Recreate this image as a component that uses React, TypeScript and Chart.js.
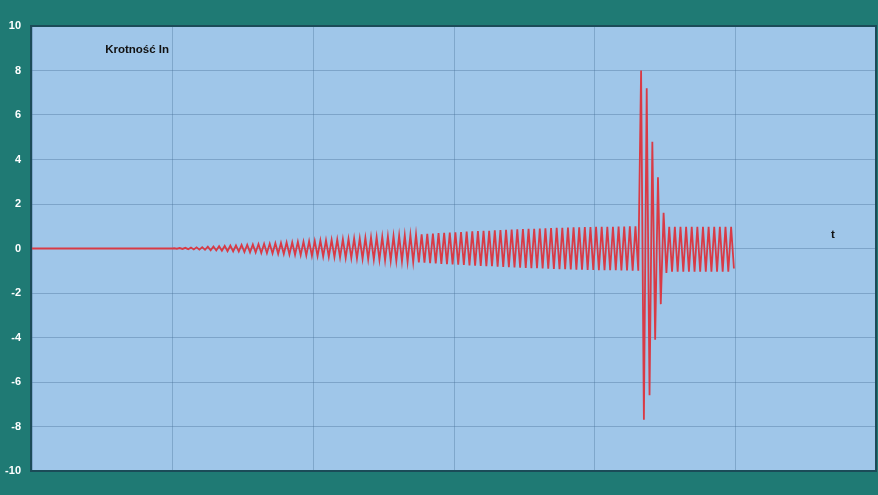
import React, { useEffect, useRef } from "react";
import { Chart, registerables } from "chart.js";

Chart.register(...registerables);

// y-axis tick values
const yTickValues = [-10, -8, -6, -4, -2, 0, 2, 4, 6, 8, 10];
// x extent (time units, grid every 1)
const xMin = 0;
const xMax = 6;

// flat part before the oscillation starts
const flatTimes = [0, 1];
const flatValues = [0, 0];

// per-cycle amplitude before the fault, cycle period 0.04
const preFaultAmp = [
  0.01, 0.02, 0.03, 0.04, 0.05, 0.06, 0.08, 0.09, 0.1, 0.12,
  0.13, 0.14, 0.16, 0.17, 0.18, 0.2, 0.21, 0.22, 0.24, 0.25,
  0.27, 0.28, 0.3, 0.31, 0.33, 0.34, 0.36, 0.37, 0.39, 0.4,
  0.42, 0.43, 0.45, 0.46, 0.48, 0.5, 0.51, 0.53, 0.55, 0.56,
  0.58, 0.6, 0.61, 0.63, 0.64, 0.66, 0.67, 0.69, 0.7, 0.72,
  0.73, 0.74, 0.76, 0.77, 0.78, 0.79, 0.8, 0.82, 0.83, 0.84,
  0.85, 0.86, 0.87, 0.88, 0.89, 0.9, 0.91, 0.92, 0.93, 0.93,
  0.94, 0.95, 0.95, 0.96, 0.96, 0.97, 0.97, 0.98, 0.98, 0.99,
  0.99, 1.0, 1.0,
];
// fault transient peaks and troughs
const faultPeaks = [8.0, 7.2, 4.8, 3.2, 1.6];
const faultTroughs = [-7.7, -6.6, -4.1, -2.5, -1.1];
// steady state after the fault
const postFaultPeaks = [0.98, 0.98, 0.98, 0.98, 0.98, 0.98, 0.98, 0.98, 0.98, 0.98, 0.98, 0.98];
const postFaultTroughs = [-1.04, -1.04, -1.04, -1.04, -1.04, -1.04, -1.04, -1.04, -1.04, -1.04, -1.04, -0.9];

const waveStart = 1.0;
const cyclePeriod = 0.04;

const yLabel = "Krotność In";
const xLabel = "t";

function buildPoints() {
  const pts: { x: number; y: number }[] = [];
  flatTimes.forEach((t, i) => pts.push({ x: t, y: flatValues[i] }));
  const peaks = [...preFaultAmp, ...faultPeaks, ...postFaultPeaks];
  const troughs = [...preFaultAmp.map((a) => -a), ...faultTroughs, ...postFaultTroughs];
  peaks.forEach((p, k) => {
    const t0 = waveStart + k * cyclePeriod;
    pts.push({ x: t0 + cyclePeriod * 0.25, y: p });
    pts.push({ x: t0 + cyclePeriod * 0.75, y: troughs[k] });
  });
  return pts;
}

const bgPlugin = {
  id: "bgPlugin",
  beforeDraw(chart: any) {
    const { ctx, chartArea, width, height } = chart;
    ctx.save();
    ctx.fillStyle = "#1f7a74";
    ctx.fillRect(0, 0, width, height);
    ctx.fillStyle = "#9fc6e9";
    ctx.fillRect(chartArea.left, chartArea.top, chartArea.right - chartArea.left, chartArea.bottom - chartArea.top);
    ctx.restore();
  },
  afterDraw(chart: any) {
    const { ctx, chartArea, scales } = chart;
    ctx.save();
    ctx.strokeStyle = "#1b4b58";
    ctx.lineWidth = 2;
    ctx.strokeRect(chartArea.left - 1, chartArea.top, chartArea.right - chartArea.left + 1, chartArea.bottom - chartArea.top);
    ctx.fillStyle = "#111111";
    ctx.font = "bold 11.5px 'Liberation Sans', Arial, sans-serif";
    ctx.textBaseline = "middle";
    ctx.textAlign = "left";
    ctx.fillText(yLabel, scales.x.getPixelForValue(0.52), scales.y.getPixelForValue(8.95));
    ctx.fillText(xLabel, scales.x.getPixelForValue(5.68), scales.y.getPixelForValue(0.6));
    ctx.restore();
  },
};

export default function App() {
  const ref = useRef<HTMLCanvasElement>(null);
  useEffect(() => {
    if (!ref.current) return;
    const chart = new Chart(ref.current, {
      type: "line",
      data: {
        datasets: [
          {
            data: buildPoints(),
            borderColor: "#d93a45",
            borderWidth: 1.8,
            pointRadius: 0,
            tension: 0,
            fill: false,
          },
        ],
      },
      options: {
        animation: false,
        responsive: false,
        parsing: false,
        normalized: true,
        layout: { padding: { top: 26, bottom: 24, left: 0, right: 2 } },
        plugins: { legend: { display: false }, tooltip: { enabled: false } },
        scales: {
          x: {
            type: "linear",
            min: xMin,
            max: xMax,
            ticks: { stepSize: 1, display: false },
            grid: { color: "rgba(70,110,150,0.35)", lineWidth: 1, drawTicks: false },
            border: { display: false },
            afterFit: (s: any) => {
              s.height = 0;
            },
          },
          y: {
            type: "linear",
            min: -10,
            max: 10,
            afterBuildTicks: (s: any) => {
              s.ticks = yTickValues.map((v) => ({ value: v }));
            },
            ticks: {
              color: "#ffffff",
              font: { family: "'Liberation Sans', Arial, sans-serif", size: 11, weight: "bold" },
              padding: 11,
            },
            grid: { color: "rgba(70,110,150,0.38)", lineWidth: 1, drawTicks: false },
            border: { display: false },
            afterFit: (s: any) => {
              s.width = 32;
            },
          },
        },
      },
      plugins: [bgPlugin],
    } as any);
    return () => chart.destroy();
  }, []);
  return (
    <div style={{ position: "fixed", left: 0, top: 0, width: 878, height: 495, background: "#1f7a74" }}>
      <canvas ref={ref} width={878} height={495} style={{ display: "block" }} />
    </div>
  );
}
